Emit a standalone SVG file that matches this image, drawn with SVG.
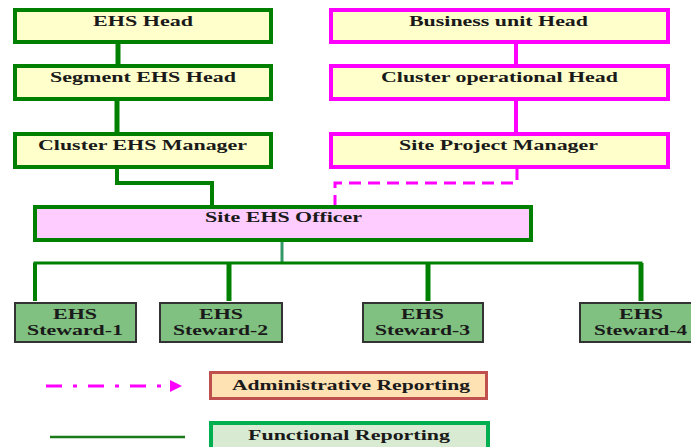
<svg xmlns="http://www.w3.org/2000/svg" width="691" height="447" viewBox="0 0 691 447">
<style>
text{font-family:"Liberation Serif","Times New Roman",serif;font-weight:bold;font-size:14px;fill:#1a1a1a}
.g{fill:#FFFFCC;stroke:#008000;stroke-width:4}
.m{fill:#FFFFCC;stroke:#FF00FF;stroke-width:4}
.st{fill:#80C080;stroke:#333;stroke-width:2}
.fl{fill:none;stroke:#008000}
.ml{fill:none;stroke:#FF00FF}
</style>
<defs>
<marker id="ah" markerWidth="4" markerHeight="4" refX="0" refY="2" orient="auto" markerUnits="strokeWidth"><path d="M0,0 L4,2 L0,4 Z" fill="#FF00FF"/></marker>
</defs>
<rect width="691" height="447" fill="#fff"/>
<g id="connectors">
<path class="fl" d="M118,44 V64" stroke-width="5"/>
<path class="fl" d="M117,101 V132" stroke-width="5"/>
<path class="fl" d="M117,169 V183 H212 V205" stroke-width="4"/>
<path class="ml" d="M516,44 V64" stroke-width="4"/>
<path class="ml" d="M516,101 V132" stroke-width="4"/>
<path class="ml" d="M517,168 V183 H335 V205" stroke-width="3" stroke-dasharray="12,7"/>
<path d="M282,242 V262" stroke="#339966" stroke-width="3" fill="none"/>
<path class="fl" d="M35,301 V263 H641 V301" stroke-width="3"/>
<path class="fl" d="M35,263 V301" stroke-width="4"/>
<path class="fl" d="M229,263 V301" stroke-width="5"/>
<path class="fl" d="M428,263 V301" stroke-width="5"/>
<path class="fl" d="M641,263 V301" stroke-width="5"/>
</g>
<g id="ehs-head"><rect class="g" x="15" y="10" width="256" height="32"/><text x="93" y="26" textLength="100" lengthAdjust="spacingAndGlyphs">EHS Head</text></g>
<g id="segment-ehs-head"><rect class="g" x="15" y="66" width="256" height="33"/><text x="50" y="82" textLength="186" lengthAdjust="spacingAndGlyphs">Segment EHS Head</text></g>
<g id="cluster-ehs-manager"><rect class="g" x="15" y="134" width="256" height="33"/><text x="38" y="150" textLength="209" lengthAdjust="spacingAndGlyphs">Cluster EHS Manager</text></g>
<g id="business-unit-head"><rect class="m" x="331" y="10" width="337" height="32"/><text x="409" y="26" textLength="179" lengthAdjust="spacingAndGlyphs">Business unit Head</text></g>
<g id="cluster-operational-head"><rect class="m" x="331" y="66" width="337" height="33"/><text x="381" y="82" textLength="237" lengthAdjust="spacingAndGlyphs">Cluster operational Head</text></g>
<g id="site-project-manager"><rect class="m" x="331" y="134" width="337" height="33"/><text x="399" y="150" textLength="199" lengthAdjust="spacingAndGlyphs">Site Project Manager</text></g>
<g id="site-ehs-officer"><rect x="35" y="207" width="496" height="33" fill="#FFCCFF" stroke="#008000" stroke-width="4"/><text x="205" y="222" textLength="157" lengthAdjust="spacingAndGlyphs">Site EHS Officer</text></g>
<g id="steward-1"><rect class="st" x="15" y="303" width="121" height="39"/><text x="53" y="319" textLength="44" lengthAdjust="spacingAndGlyphs">EHS</text><text x="27" y="335" textLength="96" lengthAdjust="spacingAndGlyphs">Steward-1</text></g>
<g id="steward-2"><rect class="st" x="160" y="303" width="122" height="39"/><text x="199" y="319" textLength="44" lengthAdjust="spacingAndGlyphs">EHS</text><text x="173" y="335" textLength="95" lengthAdjust="spacingAndGlyphs">Steward-2</text></g>
<g id="steward-3"><rect class="st" x="363" y="303" width="120" height="39"/><text x="401" y="319" textLength="43" lengthAdjust="spacingAndGlyphs">EHS</text><text x="375" y="335" textLength="95" lengthAdjust="spacingAndGlyphs">Steward-3</text></g>
<g id="steward-4"><rect class="st" x="580" y="303" width="120" height="39"/><text x="619" y="319" textLength="44" lengthAdjust="spacingAndGlyphs">EHS</text><text x="594" y="335" textLength="93" lengthAdjust="spacingAndGlyphs">Steward-4</text></g>
<g id="legend">
<path d="M46,386 H170" stroke="#FF00FF" stroke-width="3" stroke-dasharray="16,11,4,11" fill="none" marker-end="url(#ah)"/>
<rect x="210.5" y="372.5" width="276" height="26" fill="#FFE2B4" stroke="#C0504D" stroke-width="3"/>
<text x="232" y="390" textLength="238" lengthAdjust="spacingAndGlyphs">Administrative Reporting</text>
<path d="M50,437 H185" stroke="#1a7a1a" stroke-width="2.5" fill="none"/>
<rect x="211" y="423" width="277" height="30" fill="#D9EAD3" stroke="#00B050" stroke-width="4"/>
<text x="248" y="440" textLength="202" lengthAdjust="spacingAndGlyphs">Functional Reporting</text>
</g>
</svg>
